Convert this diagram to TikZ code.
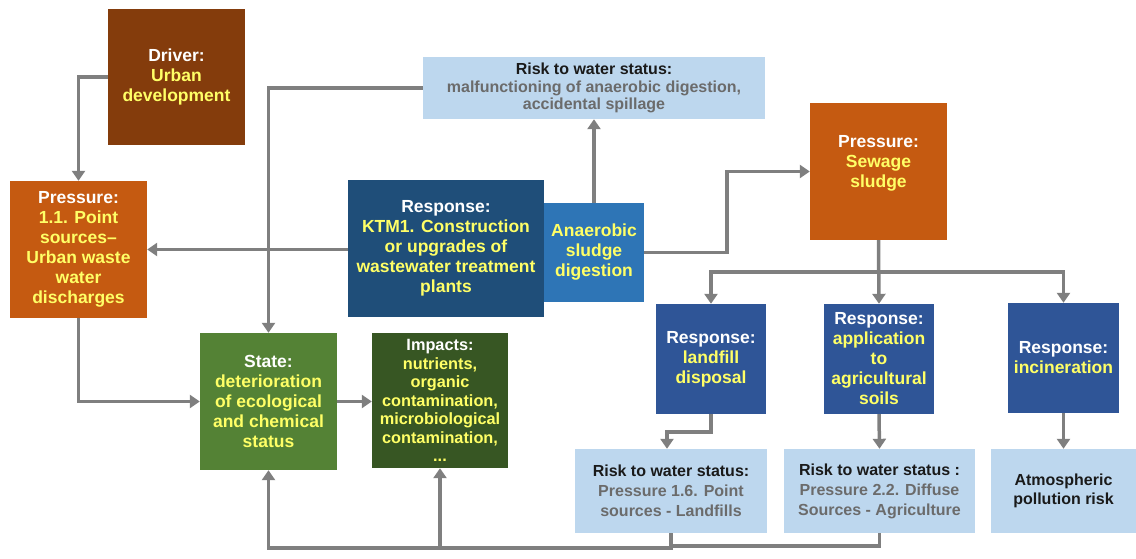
\documentclass[tikz,border=0pt]{standalone}
\usepackage{fontspec}
\setmainfont{Liberation Sans}
\usetikzlibrary{arrows.meta}
\definecolor{drvbrown}{HTML}{843C0C}
\definecolor{presorange}{HTML}{C55A11}
\definecolor{respdark}{HTML}{1F4E79}
\definecolor{respmid}{HTML}{2E75B6}
\definecolor{respblue}{HTML}{2F5597}
\definecolor{riskblue}{HTML}{BDD7EE}
\definecolor{stategreen}{HTML}{548235}
\definecolor{impgreen}{HTML}{375623}
\definecolor{hilite}{HTML}{FFFF66}
\definecolor{linkgray}{HTML}{7F7F7F}
\definecolor{risktext}{HTML}{6B6B6B}
\definecolor{titletext}{HTML}{1A1A1A}
\newcommand{\hl}[1]{\textcolor{hilite}{#1}}
\newcommand{\gt}[1]{\textcolor{risktext}{#1}}
\tikzset{
  box/.style={rectangle, inner sep=0pt, align=center, text=white,
    font=\bfseries\fontsize{17.5}{20}\selectfont},
  riskbox/.style={rectangle, inner sep=0pt, align=center, fill=riskblue,
    text=titletext, font=\bfseries\fontsize{16}{20}\selectfont},
  link/.style={draw=linkgray, line width=3.5pt},
  arr/.style={link, -{Triangle[width=13pt,length=10pt]}}
}
\begin{document}
\begin{tikzpicture}[x=1pt,y=-1pt]
\useasboundingbox (0,0) rectangle (1136,559);

% boxes
\node[box, fill=drvbrown, minimum width=137pt, minimum height=136pt] (drv) at (176.5,77)
  {Driver:\\\hl{Urban}\\\hl{development}};
\node[box, fill=presorange, minimum width=137pt, minimum height=137pt] (p1) at (78.5,249.5)
  {Pressure:\\\hl{1.1. Point}\\\hl{sources--}\\\hl{Urban waste}\\\hl{water}\\\hl{discharges}};
\node[riskbox, minimum width=342pt, minimum height=62pt,
  font=\bfseries\fontsize{16}{17.5}\selectfont] (rtop) at (594,88)
  {Risk to water status:\\\gt{malfunctioning of anaerobic digestion,}\\\gt{accidental spillage}};
\node[box, fill=respdark, minimum width=196pt, minimum height=137pt] (resp) at (446,248.5)
  {Response:\\\hl{KTM1. Construction}\\\hl{or upgrades of}\\\hl{wastewater treatment}\\\hl{plants}};
\node[box, fill=respmid, minimum width=100pt, minimum height=99pt] (ana) at (594,252.5)
  {\hl{Anaerobic}\\\hl{sludge}\\\hl{digestion}};
\node[box, fill=presorange, minimum width=137pt, minimum height=137pt] (sew) at (878.5,171.5)
  {Pressure:\\\hl{Sewage}\\\hl{sludge}\\\mbox{}};
\node[box, fill=respblue, minimum width=110pt, minimum height=110pt] (rl) at (711,359)
  {Response:\\\hl{landfill}\\\hl{disposal}};
\node[box, fill=respblue, minimum width=110pt, minimum height=110pt] (ra) at (879,359)
  {Response:\\\hl{application}\\\hl{to}\\\hl{agricultural}\\\hl{soils}};
\node[box, fill=respblue, minimum width=111pt, minimum height=110pt] (ri) at (1063.5,358)
  {Response:\\\hl{incineration}};
\node[riskbox, minimum width=192pt, minimum height=84pt] (k1) at (671,491)
  {Risk to water status:\\\gt{Pressure 1.6. Point}\\\gt{sources - Landfills}};
\node[riskbox, minimum width=191pt, minimum height=84pt] (k2) at (879.5,491)
  {Risk to water status :\\\gt{Pressure 2.2. Diffuse}\\\gt{Sources - Agriculture}};
\node[riskbox, minimum width=146pt, minimum height=84pt,
  font=\bfseries\fontsize{16}{19}\selectfont] (k3) at (1063.5,491)
  {Atmospheric\\pollution risk};
\node[box, fill=stategreen, minimum width=137pt, minimum height=137pt] (st) at (268.5,401.5)
  {State:\\\hl{deterioration}\\\hl{of ecological}\\\hl{and chemical}\\\hl{status}};
\node[box, fill=impgreen, minimum width=136pt, minimum height=135pt,
  font=\bfseries\fontsize{16.3}{18.5}\selectfont] (im) at (440,400.5)
  {Impacts:\\\hl{nutrients,}\\\hl{organic}\\\hl{contamination,}\\\hl{microbiological}\\\hl{contamination,}\\\hl{...}};

% connectors
\draw[arr] (drv.west) -| (p1.north);
\draw[arr] (resp.west |- p1.east) -- (p1.east);
\draw[arr] (rtop.west) -| (st.north);
\draw[arr] (ana.north) -- (rtop.south);
\draw[arr] (ana.east) -- ++(83,0) |- (sew.west);
\coordinate (split) at (878.5,272);
\draw[arr] (sew.south) -- (ra.north);
\draw[arr] (split) -| (rl.north);
\draw[arr] (split) -| (ri.north);
\draw[arr] (rl.south) -- ++(0,18) -| ([xshift=-4pt]k1.north);
\draw[arr] (ra.south) -- (k2.north);
\draw[arr] (ri.south) -- (k3.north);
\draw[arr] (p1.south) |- (st.west);
\draw[arr] (st.east) -- (im.west |- st.east);
\coordinate (base) at (671,548);
\draw[link] (k2.south) -- ++(0,13) -| (k1.south);
\draw[arr] (k1.south) -- (base) -| (st.south);
\draw[arr] (base) -| (im.south);
\end{tikzpicture}
\end{document}
